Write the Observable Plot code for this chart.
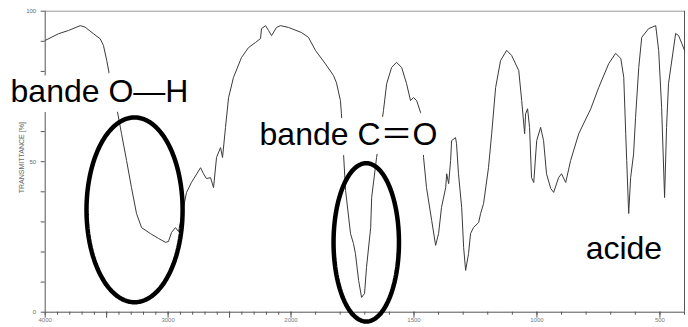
<!DOCTYPE html>
<html><head><meta charset="utf-8">
<script src="https://cdn.jsdelivr.net/npm/d3@7"></script>
<script src="https://cdn.jsdelivr.net/npm/@observablehq/plot@0.6"></script>
<style>html,body{margin:0;padding:0;background:#fff}#chart svg{display:block}</style>
</head><body><div id="chart"></div>
<script>
// IR spectrum (wavenumber in cm-1, transmittance in %)
const wavenumber = [4000,3892,3810,3715,3675,3607,3552,3526,3499,3460,3414,3379,3338,3298,3257,3216,3143,3078,3021,2997,2972,2940,2915,2891,2850,2810,2736,2712,2688,2655,2630,2606,2573,2557,2533,2508,2468,2403,2346,2289,2248,2240,2207,2183,2158,2118,2085,2020,1957,1929,1900,1860,1827,1815,1799,1795,1790,1786,1778,1758,1746,1738,1725,1713,1701,1693,1676,1672,1652,1636,1624,1611,1591,1571,1550,1530,1514,1502,1489,1473,1465,1461,1449,1428,1412,1400,1388,1371,1367,1359,1351,1347,1331,1327,1319,1306,1298,1290,1278,1270,1258,1237,1229,1217,1197,1184,1168,1148,1123,1103,1074,1062,1050,1046,1038,1030,1022,1013,1001,985,973,961,944,932,912,900,883,863,830,781,749,708,680,659,647,639,635,627,619,607,599,586,574,546,517,505,493,481,473,465,436,424,411,400];
const transmittance = [90.3,92.5,93.6,95.2,94.7,92.5,90.8,88.6,83.6,75,67,59.3,50.4,41.4,32.8,28.1,26.1,24.5,23.2,23.5,26.5,28.1,26.8,31.5,39.8,43.1,48,46,44.4,44.7,41.4,51.4,54.7,51.4,61.4,71.3,78,84.6,87.9,89.6,90.9,94.2,95.2,93.6,91.9,94.6,95.2,94.6,92.9,91.3,86.9,82.5,78.6,76.2,70.3,66,58.7,52,40.4,26.1,22.8,19.5,10.5,4.9,6.2,14.9,28.1,38.1,51.4,60,67,75.9,81.3,83,81.3,75.9,70.3,71.3,70.3,66.3,58.7,51.4,41.4,30.5,22.2,26.1,34.8,41.4,46,42.7,50.4,57,58,56,46,34.8,21.5,13.9,19.5,26.1,28.1,29.8,32.8,36.1,48,59.3,74.6,83.6,87,85.3,80.3,70.3,59.3,65.9,67.6,61.4,44.7,43.1,57,61.4,57,46,41.1,39.8,44.7,46,43.1,50.4,59.3,67.6,74.6,82.6,86,84.3,78,59.3,50.4,32.8,44.7,52.6,64.7,81.3,91.3,94.2,95.2,86.9,68,38.1,61.4,75.9,92.6,91.9,89.3,87];

const xTickLabels = [4000, 3000, 2000, 1500, 1000, 500];
const xMajorTicks = [4000, 3500, 3000, 2500, 2000, 1500, 1000, 500];
const yTickLabels = [0, 50, 100];
const yAxisTitle = "TRANSMITTANCE [%]";

// annotations
const labelText = ["bande O\u2014H", "bande C\uFF1DO", "acide"];
const labelX = [4282, 2256, 802];
const labelY = [70, 55.7, 17.8];
const ellipseCx = [3273, 1694];
const ellipseCy = [34, 23.2];
const ellipseRx = [391, 133];
const ellipseRy = [30.7, 26.3];

const spectrum = wavenumber.map((w, i) => ({w, t: transmittance[i]}));
const labels = labelText.map((text, i) => ({text, x: labelX[i], y: labelY[i]}));
const ellipses = ellipseCx.flatMap((cx, k) => d3.range(0, 120).map(j => {
  const a = j / 120 * 2 * Math.PI;
  return {k, x: cx + ellipseRx[k] * Math.cos(a), y: ellipseCy[k] + ellipseRy[k] * Math.sin(a)};
}));
const xMinorTicks = d3.range(400, 4001, 100);
const yMinorTicks = d3.range(0, 101, 10);

const chart = Plot.plot({
  width: 688, height: 327,
  marginLeft: 44.7, marginRight: 4, marginTop: 10.7, marginBottom: 15.3,
  x: {type: "linear", domain: [4000, 2000, 400], range: [44.7, 290.5, 684], axis: null},
  y: {domain: [0, 100], range: [311.7, 10.7], axis: null},
  style: {background: "#fff", fontFamily: "'Liberation Sans', Arial, sans-serif"},
  marks: [
    Plot.ruleY([100], {stroke: "#9a9a9a"}),
    Plot.ruleX([400], {stroke: "#555"}),
    Plot.ruleY([0], {stroke: "#555"}),
    Plot.ruleX([4000], {stroke: "#555"}),
    Plot.axisX(xMinorTicks, {tickSize: 3, tickFormat: () => "", stroke: "#555", label: null}),
    Plot.axisX(xMajorTicks, {tickSize: 6, tickFormat: () => "", stroke: "#555", label: null}),
    Plot.axisX(xTickLabels, {tickSize: 0, tickPadding: 6, fontSize: 6, fill: "#777", label: null, tickFormat: d => String(d)}),
    Plot.axisY(yMinorTicks, {tickSize: 4, tickFormat: () => "", stroke: "#555", label: null}),
    Plot.axisY(yTickLabels, {tickSize: 0, tickPadding: 9, fontSize: 6, fill: "#666", label: null, tickFormat: d => String(d)}),
    Plot.text([yAxisTitle], {frameAnchor: "left", textAnchor: "middle", dx: -23, dy: -4, rotate: -90, fontSize: 7, fill: "#666"}),
    Plot.line(spectrum, {x: "w", y: "t", stroke: "#3a3a3a", strokeWidth: 1}),
    Plot.text(labels, {x: "x", y: "y", text: "text", textAnchor: "start", lineAnchor: "bottom",
      fontSize: 32, fontFamily: "'Liberation Sans', Arial, 'Noto Sans CJK SC', sans-serif", fill: "#000",
      stroke: "#fff", strokeWidth: 20, strokeLinejoin: "round", paintOrder: "stroke"}),
    Plot.line(ellipses, {x: "x", y: "y", z: "k", stroke: "#000", strokeWidth: 4.5, curve: "linear-closed"})
  ]
});
document.getElementById("chart").appendChild(chart);
</script>
</body></html>
